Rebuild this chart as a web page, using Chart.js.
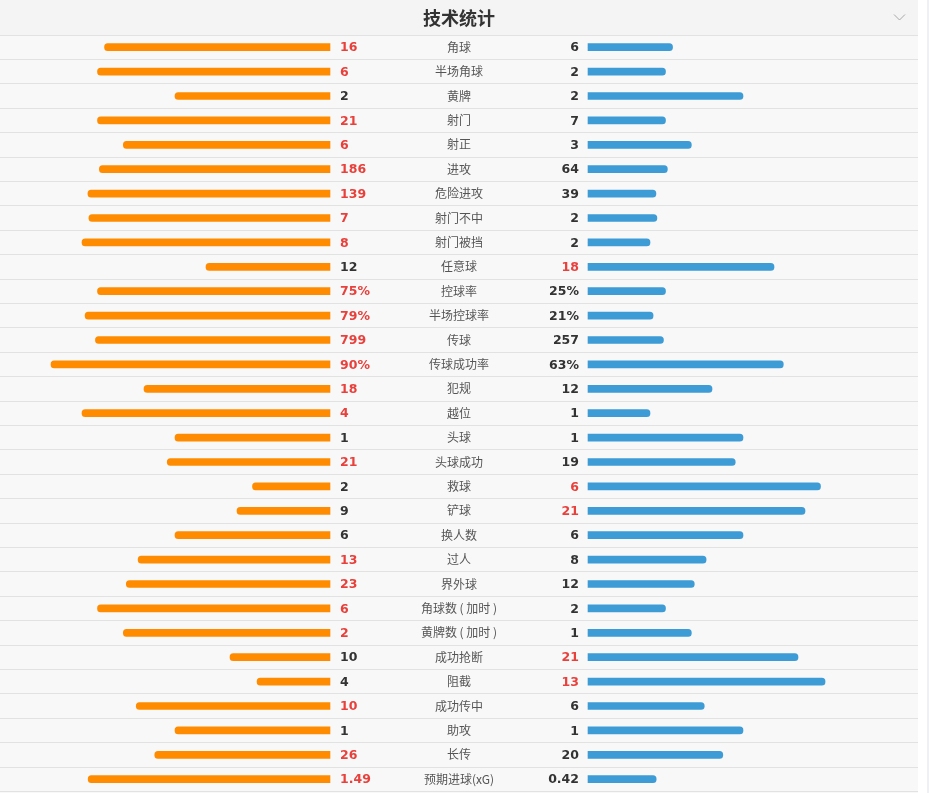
<!DOCTYPE html>
<html>
<head>
<meta charset="utf-8">
<script src="https://cdn.jsdelivr.net/npm/chart.js@4.4.0/dist/chart.umd.min.js"></script>
<style>
  html, body { margin: 0; padding: 0; background: #fff; }
  #wrap { position: absolute; left: 0; top: 0; width: 918px; height: 793px; }
  #edge { position: absolute; left: 927px; top: 0; width: 2px; height: 793px; background: #eef0f4; }
</style>
</head>
<body>
<div id="wrap"><canvas id="myChart"></canvas></div>
<div id="edge"></div>
<script>
const labels = ['角球','半场角球','黄牌','射门','射正','进攻','危险进攻','射门不中','射门被挡','任意球',
  '控球率','半场控球率','传球','传球成功率','犯规','越位','头球','头球成功','救球','铲球',
  '换人数','过人','界外球','角球数 ( 加时 )','黄牌数 ( 加时 )','成功抢断','阻截','成功传中','助攻','长传','预期进球(xG)'];
const homeValues = [16,6,2,21,6,186,139,7,8,12,75,79,799,90,18,4,1,21,2,9,6,13,23,6,2,10,4,10,1,26,1.49];
const awayValues = [6,2,2,7,3,64,39,2,2,18,25,21,257,63,12,1,1,19,6,21,6,8,12,2,1,21,13,6,1,20,0.42];
const percentRows = ['控球率','半场控球率','传球成功率'];

const GAP = 41.61;      // half of the middle gap, in bar units (100 units = full width)
const LIMIT = 148.06;

function share(i, side) {
    let h = homeValues[i], a = awayValues[i];
    if (percentRows.includes(labels[i])) return side === 'home' ? h : a;
    let total = h + a;
    if (total === 0) return 0;
    return (side === 'home' ? h : a) / total * 100;
}
function fmt(i, v) {
    return percentRows.includes(labels[i]) ? v + '%' : String(v);
}

let homeBars = labels.map((l, i) => [-GAP - share(i, 'home'), -GAP]);
let awayBars = labels.map((l, i) => [GAP, GAP + share(i, 'away')]);

const backdrop = {
    id: 'backdrop',
    beforeDraw(chart) {
        const c = chart.ctx;
        c.save();
        c.fillStyle = '#f8f8f8';
        c.fillRect(0, 0, chart.width, chart.height);
        c.fillStyle = '#f4f4f4';
        c.fillRect(0, 0, chart.width, chart.chartArea.top);
        // chevron
        c.strokeStyle = '#a8a8a8';
        c.lineWidth = 1;
        c.beginPath();
        c.moveTo(894, 14.5);
        c.lineTo(899.5, 20);
        c.lineTo(905, 14.5);
        c.stroke();
        c.restore();
    }
};

const rowText = {
    id: 'rowText',
    afterDatasetsDraw(chart) {
        const c = chart.ctx;
        const xs = chart.scales.x, ys = chart.scales.y;
        const leftX = xs.getPixelForValue(-GAP) + 10;
        const rightX = xs.getPixelForValue(GAP) - 9;
        const midX = xs.getPixelForValue(0);
        c.save();
        c.textBaseline = 'middle';
        labels.forEach((lab, i) => {
            const y = ys.getPixelForValue(i) + 1;
            const h = homeValues[i], a = awayValues[i];
            c.font = 'bold 12.5px "DejaVu Sans", Verdana, sans-serif';
            c.textAlign = 'left';
            c.fillStyle = h > a ? '#e8413c' : '#333333';
            c.fillText(fmt(i, h), leftX, y);
            c.textAlign = 'right';
            c.fillStyle = a > h ? '#e8413c' : '#333333';
            c.fillText(fmt(i, a), rightX, y);
            c.font = '12px "Noto Sans CJK SC", sans-serif';
            c.textAlign = 'center';
            c.fillStyle = '#555555';
            c.fillText(lab, midX, y - 1);
        });
        c.restore();
    }
};

new Chart(document.getElementById('myChart'), {
    type: 'bar',
    data: {
        labels: labels,
        datasets: [
            { data: homeBars, backgroundColor: '#ff8c00', borderRadius: 4, barThickness: 7 },
            { data: awayBars, backgroundColor: '#3d9bd6', borderRadius: 4, barThickness: 7 }
        ]
    },
    options: {
        indexAxis: 'y',
        responsive: true,
        maintainAspectRatio: false,
        animation: false,
        layout: { padding: { top: 0, bottom: 1.6, left: 0, right: 0 } },
        scales: {
            x: { display: false, min: -LIMIT, max: LIMIT },
            y: {
                stacked: true,
                grid: { offset: true, color: '#e2e2e2', drawTicks: false },
                ticks: { display: false },
                border: { display: false }
            }
        },
        plugins: {
            legend: { display: false },
            tooltip: { enabled: false },
            title: {
                display: true,
                text: '技术统计',
                color: '#333333',
                font: { size: 18, weight: 'bold', family: '"Noto Sans CJK SC", sans-serif', lineHeight: 1.2 },
                padding: { top: 7, bottom: 6.4 }
            }
        }
    },
    plugins: [backdrop, rowText]
});
</script>
</body>
</html>
